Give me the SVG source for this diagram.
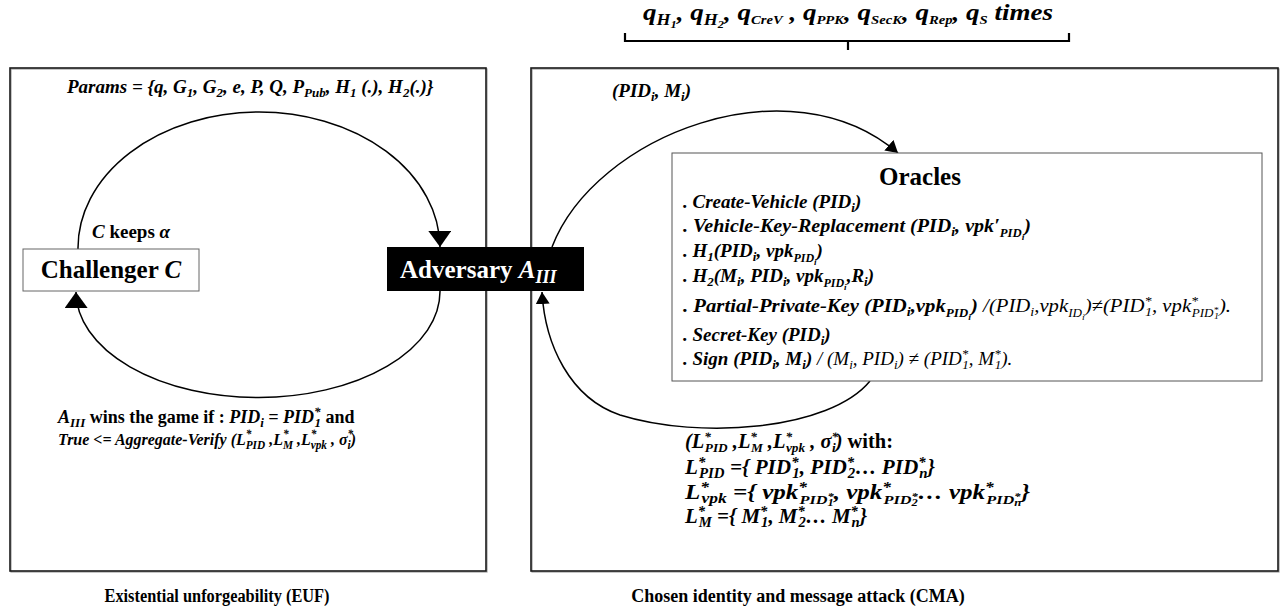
<svg xmlns="http://www.w3.org/2000/svg" width="1281" height="609" viewBox="0 0 1281 609" font-family="'Liberation Serif', 'Times New Roman', serif">
  <defs>
    <style>
      text { font-family: "Liberation Serif", "Times New Roman", serif; fill: #000; }
      .bi { font-weight: bold; font-style: italic; }
      .b { font-weight: bold; font-style: normal; }
      .it { font-weight: normal; font-style: italic; }
      .frame { fill: none; stroke: #1a1a1a; stroke-width: 1.6; }
      .shadow { fill: none; stroke: #a0a0a0; stroke-width: 1.2; }
      .flow { fill: none; stroke: #000; stroke-width: 1.5; }
    </style>
    <marker id="headL" viewBox="0 0 16 23" refX="16" refY="11.5" markerWidth="16" markerHeight="23" markerUnits="userSpaceOnUse" orient="auto">
      <path d="M0,0 L16,11.5 L0,23 Z" fill="#000"/>
    </marker>
    <marker id="headS" viewBox="0 0 12 14" refX="12" refY="7" markerWidth="12" markerHeight="14" markerUnits="userSpaceOnUse" orient="auto">
      <path d="M0,0 L12,7 L0,14 Z" fill="#000"/>
    </marker>
  </defs>

  <rect width="1281" height="609" fill="#fff"/>

  <!-- query budget label and bracket -->
  <g id="query-budget">
    <text x="643" y="20" class="bi" font-size="24" textLength="410" lengthAdjust="spacingAndGlyphs">q<tspan font-size="16" dy="5">H</tspan><tspan font-size="11" dy="3">1</tspan><tspan dy="-8">, q</tspan><tspan font-size="16" dy="5">H</tspan><tspan font-size="11" dy="3">2</tspan><tspan dy="-8">, q</tspan><tspan font-size="13" dy="4">CreV</tspan><tspan dy="-4"> , q</tspan><tspan font-size="13" dy="4">PPK</tspan><tspan dy="-4">, q</tspan><tspan font-size="13" dy="4">SecK</tspan><tspan dy="-4">, q</tspan><tspan font-size="13" dy="4">Rep</tspan><tspan dy="-4">, q</tspan><tspan font-size="13" dy="4">S</tspan><tspan dy="-4"> times</tspan></text>
    <path d="M625,33 V41 H1069 V33 M848,41 V50" fill="none" stroke="#000" stroke-width="2.2"/>
  </g>

  <!-- EUF frame -->
  <g id="euf-frame">
    <rect x="11" y="69" width="476" height="503" class="shadow"/>
    <rect x="10" y="68" width="476" height="503" class="frame"/>
  </g>

  <!-- CMA frame -->
  <g id="cma-frame">
    <rect x="532" y="69" width="747" height="503" class="shadow"/>
    <rect x="531" y="68" width="747" height="503" class="frame"/>
  </g>

  <!-- connectors -->
  <g id="connectors">
    <path class="flow" d="M78,249 A181,136 0 0 1 440,247" marker-end="url(#headL)"/>
    <path class="flow" d="M440,291 A182,106 0 0 1 76,292" marker-end="url(#headL)"/>
    <path class="flow" d="M552,247 C595,135 790,60 898,153" marker-end="url(#headS)"/>
    <path class="flow" d="M870,381 C830,430 700,440 620,415 C570,398 545,345 542,292" marker-end="url(#headS)"/>
  </g>

  <!-- Challenger node -->
  <g id="challenger">
    <rect x="23" y="249" width="176" height="42" fill="#fff" stroke="#666" stroke-width="1"/>
    <text x="111" y="278" text-anchor="middle" font-size="25" class="b">Challenger <tspan class="bi">C</tspan></text>
  </g>

  <!-- Adversary node -->
  <g id="adversary">
    <rect x="387" y="247" width="197" height="44" fill="#000"/>
    <text x="400" y="278" font-size="25" class="b" style="fill:#fff">Adversary <tspan class="bi" style="fill:#fff">A</tspan><tspan class="bi" font-size="18" dy="5" style="fill:#fff">III</tspan></text>
  </g>

  <!-- EUF labels -->
  <g id="euf-labels">
    <text x="67" y="93" class="bi" font-size="19">Params = {q, G<tspan font-size="13" dy="4">1</tspan><tspan dy="-4">, G</tspan><tspan font-size="13" dy="4">2</tspan><tspan dy="-4">, e, P, Q, P</tspan><tspan font-size="13" dy="4">Pub</tspan><tspan dy="-4">, H</tspan><tspan font-size="13" dy="4">1</tspan><tspan dy="-4"> (.), H</tspan><tspan font-size="13" dy="4">2</tspan><tspan dy="-4">(.)}</tspan></text>
    <text x="92" y="238" font-size="19" class="b"><tspan class="bi">C</tspan> keeps <tspan class="bi">α</tspan></text>
    <text x="58" y="423" font-size="18" class="b"><tspan class="bi">A</tspan><tspan class="bi" font-size="13" dy="4">III</tspan><tspan dy="-4"> wins the game if : </tspan><tspan class="bi">PID</tspan><tspan class="bi" font-size="13" dy="4">i</tspan><tspan class="bi" dy="-4"> = PID</tspan><tspan class="bi" font-size="13" dy="-7">*</tspan><tspan class="bi" font-size="13" dx="-6" dy="11">1</tspan><tspan dy="-4"> and</tspan></text>
    <text x="58" y="445" font-size="17" class="bi" textLength="298" lengthAdjust="spacingAndGlyphs">True &lt;= Aggregate-Verify (L<tspan font-size="12" dy="-7">*</tspan><tspan font-size="12" dx="-6" dy="11">PID</tspan><tspan dy="-4"> ,L</tspan><tspan font-size="12" dy="-7">*</tspan><tspan font-size="12" dx="-6" dy="11">M</tspan><tspan dy="-4"> ,L</tspan><tspan font-size="12" dy="-7">*</tspan><tspan font-size="12" dx="-6" dy="11">vpk</tspan><tspan dy="-4"> , σ</tspan><tspan font-size="12" dy="-7">*</tspan><tspan font-size="12" dx="-6" dy="11">i</tspan><tspan dy="-4">)</tspan></text>
    <text x="217" y="602" text-anchor="middle" font-size="18" class="b" textLength="225" lengthAdjust="spacingAndGlyphs">Existential unforgeability (EUF)</text>
  </g>

  <!-- query label above the oracles -->
  <g id="query-label">
    <text x="612" y="97" class="bi" font-size="19">(PID<tspan font-size="13" dy="4">i</tspan><tspan dy="-4">, M</tspan><tspan font-size="13" dy="4">i</tspan><tspan dy="-4">)</tspan></text>
  </g>

  <!-- Oracles node -->
  <g id="oracles">
    <rect x="672" y="153" width="590" height="228" fill="#fff" stroke="#555" stroke-width="1"/>
    <text x="920" y="185" text-anchor="middle" font-size="25" class="b">Oracles</text>
    <g font-size="19">
      <text x="683" y="208" class="bi">. Create-Vehicle (PID<tspan font-size="13" dy="4">i</tspan><tspan dy="-4">)</tspan></text>
      <text x="683" y="232" class="bi" textLength="348" lengthAdjust="spacingAndGlyphs">. Vehicle-Key-Replacement (PID<tspan font-size="13" dy="4">i</tspan><tspan dy="-4">, vpk′</tspan><tspan font-size="12" dy="5">PID</tspan><tspan font-size="9" dy="3">i</tspan><tspan dy="-8">)</tspan></text>
      <text x="683" y="257" class="bi">. H<tspan font-size="13" dy="4">1</tspan><tspan dy="-4">(PID</tspan><tspan font-size="13" dy="4">i</tspan><tspan dy="-4">, vpk</tspan><tspan font-size="12" dy="5">PID</tspan><tspan font-size="9" dy="3">i</tspan><tspan dy="-8">)</tspan></text>
      <text x="683" y="282" class="bi">. H<tspan font-size="13" dy="4">2</tspan><tspan dy="-4">(M</tspan><tspan font-size="13" dy="4">i</tspan><tspan dy="-4">, PID</tspan><tspan font-size="13" dy="4">i</tspan><tspan dy="-4">, vpk</tspan><tspan font-size="12" dy="5">PID</tspan><tspan font-size="9" dy="3">i</tspan><tspan dy="-8">,R</tspan><tspan font-size="13" dy="4">i</tspan><tspan dy="-4">)</tspan></text>
      <text x="683" y="312" class="bi" textLength="548" lengthAdjust="spacingAndGlyphs">. Partial-Private-Key  (PID<tspan font-size="13" dy="4">i</tspan><tspan dy="-4">,vpk</tspan><tspan font-size="12" dy="5">PID</tspan><tspan font-size="9" dy="3">i</tspan><tspan dy="-8">) </tspan><tspan class="it">/(PID</tspan><tspan class="it" font-size="13" dy="4">i</tspan><tspan class="it" dy="-4">,vpk</tspan><tspan class="it" font-size="12" dy="5">ID</tspan><tspan class="it" font-size="9" dy="3">i</tspan><tspan class="it" dy="-8">)≠(PID</tspan><tspan class="it" font-size="13" dy="-7">*</tspan><tspan class="it" font-size="13" dx="-6" dy="11">1</tspan><tspan class="it" dy="-4">, vpk</tspan><tspan class="it" font-size="13" dy="-7">*</tspan><tspan class="it" font-size="12" dx="-6" dy="12">PID</tspan><tspan class="it" font-size="9" dy="-4">*</tspan><tspan class="it" font-size="9" dx="-4" dy="6">1</tspan><tspan class="it" dy="-7">).</tspan></text>
      <text x="683" y="341" class="bi">. Secret-Key (PID<tspan font-size="13" dy="4">i</tspan><tspan dy="-4">)</tspan></text>
      <text x="683" y="365" class="bi">. Sign (PID<tspan font-size="13" dy="4">i</tspan><tspan dy="-4">, M</tspan><tspan font-size="13" dy="4">i</tspan><tspan dy="-4">) </tspan><tspan class="it">/ (M</tspan><tspan class="it" font-size="13" dy="4">i</tspan><tspan class="it" dy="-4">, PID</tspan><tspan class="it" font-size="13" dy="4">i</tspan><tspan class="it" dy="-4">) ≠ (PID</tspan><tspan class="it" font-size="13" dy="-7">*</tspan><tspan class="it" font-size="13" dx="-6" dy="11">1</tspan><tspan class="it" dy="-4">, M</tspan><tspan class="it" font-size="13" dy="-7">*</tspan><tspan class="it" font-size="13" dx="-6" dy="11">1</tspan><tspan class="it" dy="-4">).</tspan></text>
    </g>
  </g>

  <!-- forgery output -->
  <g id="forgery" font-size="20">
    <text x="685" y="448" class="bi" textLength="208" lengthAdjust="spacingAndGlyphs">(L<tspan font-size="13" dy="-7">*</tspan><tspan font-size="13" dx="-6" dy="11">PID</tspan><tspan dy="-4"> ,L</tspan><tspan font-size="13" dy="-7">*</tspan><tspan font-size="13" dx="-6" dy="11">M</tspan><tspan dy="-4"> ,L</tspan><tspan font-size="13" dy="-7">*</tspan><tspan font-size="13" dx="-6" dy="11">vpk</tspan><tspan dy="-4"> , σ</tspan><tspan font-size="13" dy="-7">*</tspan><tspan font-size="13" dx="-6" dy="11">i</tspan><tspan dy="-4">) </tspan><tspan class="b">with:</tspan></text>
    <text x="685" y="474" class="bi" textLength="250" lengthAdjust="spacingAndGlyphs">L<tspan font-size="14" dy="-7">*</tspan><tspan font-size="14" dx="-6" dy="11">PID</tspan><tspan dy="-4">  ={ PID</tspan><tspan font-size="14" dy="-7">*</tspan><tspan font-size="14" dx="-6" dy="11">1</tspan><tspan dy="-4">, PID</tspan><tspan font-size="14" dy="-7">*</tspan><tspan font-size="14" dx="-6" dy="11">2</tspan><tspan dy="-4">… PID</tspan><tspan font-size="14" dy="-7">*</tspan><tspan font-size="14" dx="-6" dy="11">n</tspan><tspan dy="-4">}</tspan></text>
    <text x="685" y="499" class="bi" textLength="345" lengthAdjust="spacingAndGlyphs">L<tspan font-size="14" dy="-7">*</tspan><tspan font-size="14" dx="-6" dy="11">vpk</tspan><tspan dy="-4">  ={ vpk</tspan><tspan font-size="14" dy="-7">*</tspan><tspan font-size="13" dx="-6" dy="12">PID</tspan><tspan font-size="10" dy="-4">*</tspan><tspan font-size="10" dx="-5" dy="6">1</tspan><tspan dy="-7">, vpk</tspan><tspan font-size="14" dy="-7">*</tspan><tspan font-size="13" dx="-6" dy="12">PID</tspan><tspan font-size="10" dy="-4">*</tspan><tspan font-size="10" dx="-5" dy="6">2</tspan><tspan dy="-7">… vpk</tspan><tspan font-size="14" dy="-7">*</tspan><tspan font-size="13" dx="-6" dy="12">PID</tspan><tspan font-size="10" dy="-4">*</tspan><tspan font-size="10" dx="-5" dy="6">n</tspan><tspan dy="-7">}</tspan></text>
    <text x="685" y="523" class="bi" textLength="182" lengthAdjust="spacingAndGlyphs">L<tspan font-size="14" dy="-7">*</tspan><tspan font-size="14" dx="-6" dy="11">M</tspan><tspan dy="-4">  ={ M</tspan><tspan font-size="14" dy="-7">*</tspan><tspan font-size="14" dx="-6" dy="11">1</tspan><tspan dy="-4">, M</tspan><tspan font-size="14" dy="-7">*</tspan><tspan font-size="14" dx="-6" dy="11">2</tspan><tspan dy="-4">… M</tspan><tspan font-size="14" dy="-7">*</tspan><tspan font-size="14" dx="-6" dy="11">n</tspan><tspan dy="-4">}</tspan></text>
  </g>

  <g id="cma-caption">
    <text x="798" y="602" text-anchor="middle" font-size="18" class="b">Chosen identity and message attack (CMA)</text>
  </g>
</svg>
